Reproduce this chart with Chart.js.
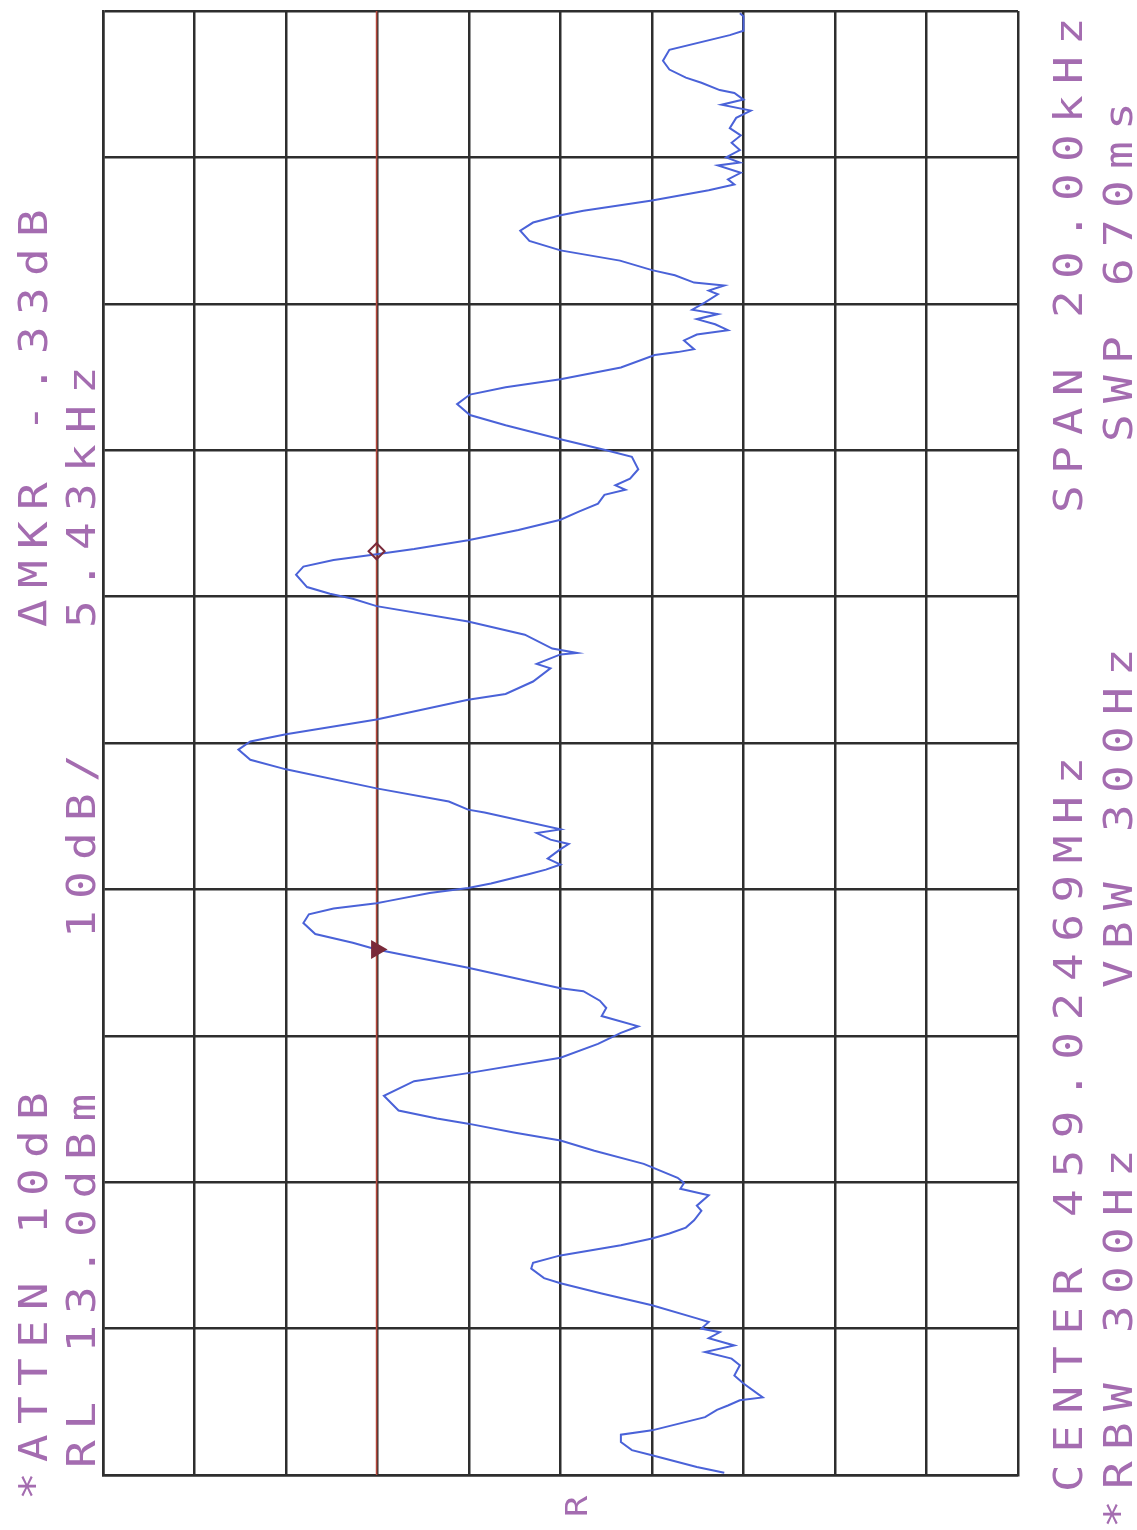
<!DOCTYPE html>
<html>
<head>
<meta charset="utf-8">
<script src="https://cdn.jsdelivr.net/npm/chart.js@4.4.1/dist/chart.umd.min.js"></script>
<style>
  html, body { margin: 0; padding: 0; background: #fff; }
</style>
</head>
<body>
<canvas id="c" width="1137" height="1530"></canvas>
<script>
// sweep, bottom (start) to top (stop): offset from centre in kHz, level in dBm
const freqKHz = [
  -9.97,-9.89,-9.73,-9.66,-9.55,-9.45,-9.39,-9.21,-9.11,-9.05,
  -8.98,-8.94,-8.75,-8.64,-8.50,-8.41,-8.32,-8.23,-8.13,-8.05,
  -8.00,-7.91,-7.86,-7.68,-7.52,-7.38,-7.31,-7.18,-7.10,-7.00,
  -6.86,-6.77,-6.70,-6.62,-6.52,-6.39,-6.32,-6.18,-6.09,-6.01,
  -5.94,-5.75,-5.57,-5.43,-5.32,-5.20,-5.13,-5.02,-4.82,-4.62,
  -4.51,-4.30,-4.11,-3.96,-3.87,-3.73,-3.62,-3.52,-3.39,-3.35,
  -3.07,-2.82,-2.73,-2.61,-2.46,-2.34,-2.26,-2.19,-2.16,-2.05,
  -1.98,-1.92,-1.79,-1.73,-1.66,-1.58,-1.45,-1.38,-1.32,-1.23,
  -1.18,-0.95,-0.91,-0.80,-0.62,-0.36,-0.23,-0.09,0.02,0.12,
  0.32,0.59,0.67,0.84,1.02,1.08,1.21,1.23,1.29,1.48,
  1.66,1.87,1.97,2.04,2.13,2.30,2.41,2.50,2.58,2.65,
  2.77,2.91,3.05,3.16,3.27,3.39,3.46,3.52,3.61,3.74,
  3.91,4.00,4.15,4.34,4.48,4.63,4.76,4.86,4.97,5.13,
  5.30,5.34,5.38,5.50,5.58,5.64,5.72,5.79,5.86,5.92,
  6.02,6.13,6.18,6.25,6.29,6.39,6.46,6.59,6.73,6.86,
  7.00,7.11,7.21,7.27,7.41,7.55,7.63,7.70,7.79,7.89,
  7.93,8.00,8.10,8.20,8.30,8.40,8.54,8.64,8.72,8.79,
  8.88,8.92,9.02,9.09,9.20,9.32,9.47,9.67,9.73,9.93,
  9.97
];
const levelDbm = [
  -54.9,-51.9,-47.0,-44.8,-43.6,-43.6,-47.0,-52.8,-54.1,-55.3,
  -56.6,-59.1,-57.0,-56.0,-56.6,-55.7,-52.8,-56.0,-53.2,-54.4,
  -52.4,-53.2,-51.9,-47.0,-41.5,-37.0,-35.2,-33.8,-34.0,-37.0,
  -43.6,-47.0,-48.9,-50.7,-51.6,-52.4,-51.9,-53.2,-50.1,-50.5,
  -49.8,-46.1,-40.7,-37.0,-31.9,-26.9,-23.5,-19.3,-17.7,-21.0,
  -26.9,-37.0,-41.1,-43.6,-45.5,-41.5,-42.0,-41.3,-39.5,-37.0,
  -26.9,-16.9,-14.3,-10.2,-8.9,-9.5,-12.2,-16.9,-18.1,-22.7,
  -26.9,-29.4,-33.6,-35.4,-37.0,-35.6,-37.0,-37.9,-35.9,-34.4,
  -37.0,-28.7,-26.9,-24.8,-16.9,-7.0,-3.1,-1.8,-3.1,-7.0,
  -16.9,-26.9,-31.0,-34.0,-35.9,-34.4,-37.0,-38.8,-36.1,-33.1,
  -26.9,-16.9,-14.3,-11.8,-9.3,-8.1,-8.9,-12.2,-16.9,-21.0,
  -26.9,-32.4,-37.0,-39.0,-41.1,-41.8,-44.1,-43.0,-44.6,-45.5,
  -44.8,-42.0,-37.0,-31.0,-27.1,-25.7,-27.1,-31.0,-37.0,-43.6,
  -47.3,-49.8,-51.6,-50.5,-51.9,-55.3,-53.9,-51.9,-54.2,-51.4,
  -52.8,-54.2,-53.2,-54.9,-51.6,-49.5,-47.0,-43.5,-37.0,-33.6,
  -32.6,-34.0,-37.0,-39.5,-47.0,-53.2,-56.0,-55.3,-56.7,-54.2,
  -56.6,-55.1,-56.6,-55.7,-56.7,-55.5,-56.2,-57.8,-54.6,-57.0,
  -56.0,-54.4,-52.4,-50.7,-48.9,-48.2,-48.9,-55.5,-57.0,-57.0,
  -56.6
];

// graticule: 10 dB/div from RL 13 dBm, 2 kHz/div over a 20 kHz span
const gridLevels = [13, 3, -7, -17, -27, -37, -47, -57, -67, -77, -87];
const gridFreqs = [-10, -8, -6, -4, -2, 0, 2, 4, 6, 8, 10];

const displayLine = -16.9;
const markerFreq = [2.62, -2.82];
const markerLevel = [-16.9, -16.9];

// annotation text, drawn rotated (reads bottom to top)
const textLeft1 = ['*ATTEN 10dB', '\u0394MKR -.33dB'];
const textLeft2 = ['RL 13.0dBm', '10dB/', '5.43kHz'];
const textRight1 = ['CENTER 459.02469MHz', 'SPAN 20.00kHz'];
const textRight2 = ['*RBW 300Hz', 'VBW 300Hz', 'SWP 670ms'];

const ink = '#a46cb0';
const gridColor = '#2e2e2e';

function vText(ctx, str, xBase, yStart, pitch) {
  for (let i = 0; i < str.length; i++) {
    ctx.save();
    ctx.translate(xBase, yStart - i * pitch);
    ctx.rotate(-Math.PI / 2);
    ctx.scale(1.18, 1);
    ctx.fillText(str[i], 0, 0);
    ctx.restore();
  }
}

const labelsPlugin = {
  id: 'labelsPlugin',
  afterDraw(chart) {
    const ctx = chart.ctx;
    ctx.save();
    ctx.fillStyle = ink;
    ctx.font = '39px "DejaVu Sans Mono"';
    ctx.textBaseline = 'alphabetic';
    const p = 39;
    vText(ctx, textLeft1[0], 47, 1500, 38);
    vText(ctx, textLeft1[1], 47, 627, p);
    vText(ctx, textLeft2[0], 95, 1468, 38.5);
    vText(ctx, textLeft2[1], 95, 938, p);
    vText(ctx, textLeft2[2], 95, 628, p);
    vText(ctx, textRight1[0], 1082, 1492, 39.3);
    vText(ctx, textRight1[1], 1082, 513, p);
    vText(ctx, textRight2[0], 1132, 1528, p);
    vText(ctx, textRight2[1], 1132, 988, p);
    vText(ctx, textRight2[2], 1132, 442, p);
    ctx.font = '30px "DejaVu Sans Mono"';
    vText(ctx, 'R', 587, 1517, p);
    ctx.restore();
  }
};

const trace = freqKHz.map((f, i) => ({ x: levelDbm[i], y: f }));
const markers = markerFreq.map((f, i) => ({ x: markerLevel[i], y: f }));
const dline = [{ x: displayLine, y: gridFreqs[0] }, { x: displayLine, y: gridFreqs[gridFreqs.length - 1] }];

function axis(min, max, ticks, reverse) {
  return {
    type: 'linear', min: min, max: max, reverse: reverse,
    afterBuildTicks: s => { s.ticks = ticks.map(v => ({ value: v })); },
    ticks: { display: false },
    grid: { color: gridColor, lineWidth: 2.5, drawTicks: false },
    border: { color: gridColor, width: 2.5 }
  };
}

new Chart(document.getElementById('c'), {
  type: 'scatter',
  data: {
    datasets: [
      {
        data: markers, order: 0,
        pointStyle: ['rectRot', 'triangle'],
        rotation: [0, 90],
        radius: [8, 9],
        borderColor: '#7a2a3a', borderWidth: 2,
        backgroundColor: ['rgba(255,255,255,0)', '#7a2a3a']
      },
      {
        data: trace, order: 1, showLine: true,
        borderColor: '#4a62d8', borderWidth: 2,
        pointRadius: 0, tension: 0
      },
      {
        data: dline, order: 2, showLine: true,
        borderColor: '#b5483c', borderWidth: 1.6, pointRadius: 0
      }
    ]
  },
  options: {
    responsive: false,
    animation: false,
    layout: { padding: { left: 103, right: 119, top: 8, bottom: 55 } },
    plugins: { legend: { display: false }, tooltip: { enabled: false } },
    scales: {
      x: axis(gridLevels[gridLevels.length - 1], gridLevels[0], gridLevels, true),
      y: axis(gridFreqs[0], gridFreqs[gridFreqs.length - 1], gridFreqs, false)
    }
  },
  plugins: [labelsPlugin]
});
</script>
</body>
</html>
